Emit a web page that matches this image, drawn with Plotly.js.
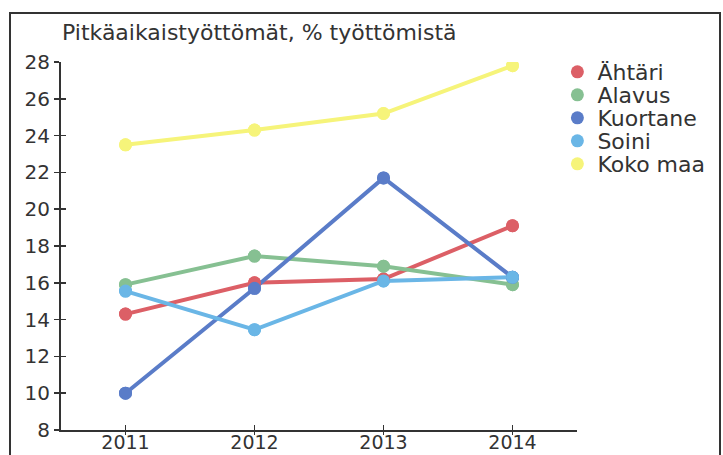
<!DOCTYPE html>
<html>
<head>
<meta charset="utf-8">
<script src="https://cdn.plot.ly/plotly-3.0.1.min.js"></script>
<style>html,body{margin:0;padding:0;background:#fff;}#chart{width:723px;height:455px;}</style>
</head>
<body>
<div id="chart"></div>
<script>
const years = [2011, 2012, 2013, 2014];
const seriesNames = ["Ähtäri", "Alavus", "Kuortane", "Soini", "Koko maa"];
const ahtari   = [14.3, 16.0, 16.2, 19.1];
const alavus   = [15.9, 17.45, 16.9, 15.9];
const kuortane = [10.0, 15.7, 21.7, 16.3];
const soini    = [15.55, 13.45, 16.1, 16.3];
const kokoMaa  = [23.5, 24.3, 25.2, 27.8];
const yTicks = [8, 10, 12, 14, 16, 18, 20, 22, 24, 26, 28];
const colors = ["#dc5f66", "#86c092", "#5a7cc8", "#6ab6e6", "#f6f47a"];
const values = [ahtari, alavus, kuortane, soini, kokoMaa];
const legendIds = ["legend", "legend2", "legend3", "legend4", "legend5"];

const traces = [];
values.forEach((v, i) => {
  traces.push({
    x: years, y: v, name: seriesNames[i], type: "scatter", mode: "lines+markers",
    line: {color: colors[i], width: 4}, marker: {color: colors[i], size: 13},
    showlegend: false, legendgroup: "g" + i
  });
});
values.forEach((v, i) => {
  traces.push({
    x: years, y: v, name: seriesNames[i], type: "scatter", mode: "markers",
    marker: {color: colors[i], size: 13}, legend: legendIds[i], legendgroup: "g" + i
  });
});
// helper trace for the overlay axes (crossing ticks)
traces.push({x: [years[0]], y: [yTicks[0]], xaxis: "x2", yaxis: "y2", showlegend: false,
  mode: "markers", marker: {opacity: 0}, hoverinfo: "skip"});

const axisColor = "#333";
const textColor = "#333";
const layout = {
  width: 723, height: 455,
  margin: {l: 61, r: 146, t: 62, b: 25},
  paper_bgcolor: "#fff", plot_bgcolor: "#fff",
  font: {family: "DejaVu Sans, Verdana, sans-serif", size: 20, color: textColor},
  title: {text: "Pitkäaikaistyöttömät, % työttömistä", x: 62/723, xanchor: "left", xref: "container",
          y: 1 - 32/455, yanchor: "middle", yref: "container",
          font: {size: 22, color: textColor}},
  xaxis: {range: [2010.5, 2014.5], tickvals: years, ticktext: years.map(String),
          showgrid: false, zeroline: false, showline: true, linecolor: axisColor, linewidth: 2,
          ticks: "inside", ticklen: 5, tickcolor: axisColor, tickwidth: 1.5,
          ticklabelstandoff: -6,
          tickfont: {size: 19, color: textColor}},
  yaxis: {range: [8, 28], tickvals: yTicks, showgrid: false, zeroline: false,
          showline: true, linecolor: axisColor, linewidth: 2,
          ticks: "outside", ticklen: 5, tickcolor: axisColor, tickwidth: 1.5,
          tickfont: {size: 20, color: textColor}},
  xaxis2: {overlaying: "x", range: [2010.5, 2014.5], tickvals: years, showticklabels: false,
           showgrid: false, zeroline: false, ticks: "outside", ticklen: 4, tickcolor: axisColor,
           tickwidth: 1.5, anchor: "y2", side: "bottom"},
  yaxis2: {overlaying: "y", range: [8, 28], tickvals: yTicks, showticklabels: false,
           showgrid: false, zeroline: false, ticks: "inside", ticklen: 5, tickcolor: axisColor,
           tickwidth: 1.5, anchor: "x2", side: "left"},
  shapes: [{type: "rect", xref: "paper", yref: "paper",
            x0: (10 - 61) / 516, x1: (720 - 61) / 516,
            y0: (430 - 470) / 368, y1: (430 - 13) / 368,
            line: {color: "#333", width: 2}}],
  showlegend: true
};
legendIds.forEach((id, i) => {
  const center = 72 + 23 * i;
  layout[id] = {x: 0.962, xanchor: "left", y: (430 - center) / 368, yanchor: "middle",
                font: {size: 22, color: textColor}, bgcolor: "rgba(0,0,0,0)", itemwidth: 30};
});
Plotly.newPlot("chart", traces, layout, {staticPlot: true});
</script>
</body>
</html>
